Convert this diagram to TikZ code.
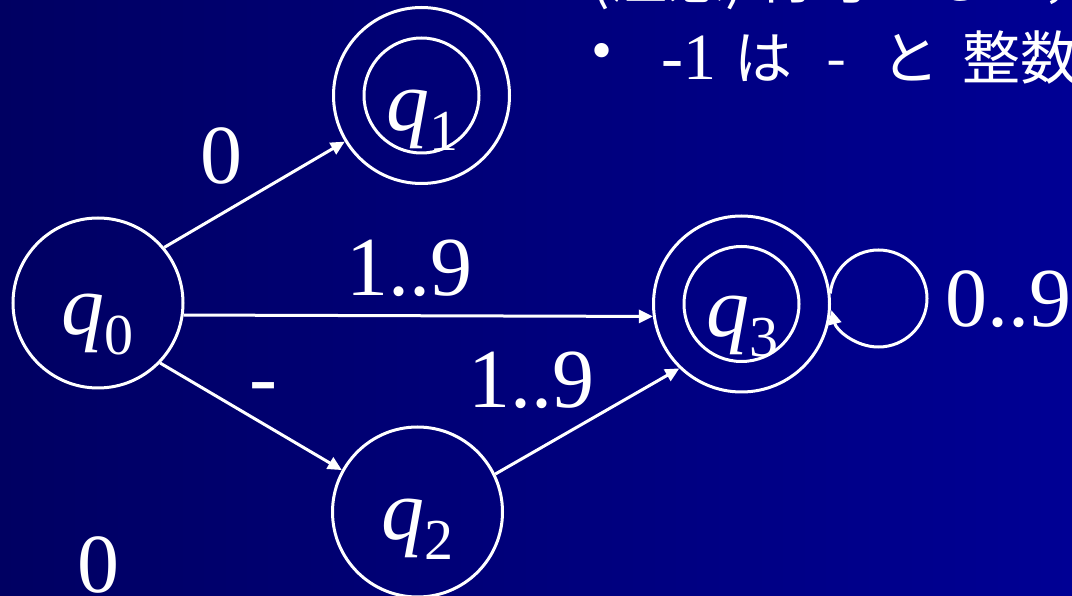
\documentclass[tikz,border=0pt]{standalone}
\usepackage{fontspec}
\setmainfont{Liberation Serif}
\newfontfamily\jpfont{Noto Sans CJK JP}
\usetikzlibrary{arrows.meta}
\definecolor{bgleft}{RGB}{0,0,98}
\definecolor{bgright}{RGB}{0,0,148}
\newcommand{\qsub}[1]{\textit{q}\raisebox{-20pt}{\fontsize{58}{58}\selectfont #1}}
\tikzset{
  state/.style={circle,draw=white,line width=3pt,inner sep=0pt},
  trans/.style={draw=white,line width=3pt,-{Triangle[length=14pt,width=13pt]}},
  biglabel/.style={text=white,inner sep=0pt,font=\fontsize{84}{90}\selectfont},
  qlabel/.style={text=white,inner sep=0pt,anchor=base west,font=\fontsize{86}{90}\selectfont},
  jptext/.style={text=white,inner sep=0pt,anchor=base west,font=\jpfont\fontsize{58}{62}\selectfont},
}
\begin{document}
\begin{tikzpicture}[x=1pt,y=1pt]
\useasboundingbox (0,0) rectangle (1072,595);
\clip (0,0) rectangle (1072,595);
\shade[left color=bgleft,right color=bgright] (0,0) rectangle (1072,595);

% states
\node[state,minimum size=170pt] (q0) at (98,292) {};
\node[state,minimum size=176pt] (q1) at (421.5,499.5) {};
\node[state,minimum size=170pt] (q2) at (417.5,83) {};
\node[state,minimum size=176pt] (q3) at (741.5,291) {};
\draw[white,line width=3pt] (q1.center) circle[radius=57.5];
\draw[white,line width=3pt] (q3.center) circle[radius=57.5];

% state labels
\node[qlabel] (l0) at (61,260) {\qsub{0}};
\node[qlabel] (l1) at (386,464) {\qsub{1}};
\node[qlabel] (l2) at (381,55) {\qsub{2}};
\node[qlabel] (l3) at (706,258) {\qsub{3}};

% transitions
\draw[trans] (q0.40) -- (q1.211);
\draw[trans] (q0.-8) -- (q3.188);
\draw[trans] (q0.-44) -- (q2.151);
\draw[trans] (q2.26) -- (q3.226);
\coordinate (lc) at (878.5,296.5);
\draw[trans] ([shift={(174:48.5)}]lc) arc[start angle=174,end angle=-166,radius=48.5];

% edge labels
\node[biglabel,anchor=base] (e01) at (221,411) {0};
\node[biglabel,anchor=base] (e03) at (409,299) {1..9};
\node[biglabel,anchor=base] (e02) at (263.5,189) {-};
\node[biglabel,anchor=base] (e23) at (531.5,187) {1..9};
\node[biglabel,anchor=base west] (e33) at (945,268) {0..9};
\node[biglabel,anchor=base] (z0) at (98,2) {0};

% Japanese notes (cut off at the top-right)
\node[jptext] (n1) at (590,596) {(注意) 符号として，};
\node[text=white,inner sep=0pt,font=\fontsize{60}{62}\selectfont] (bul) at (602,538) {•};
\node[text=white,inner sep=0pt,anchor=base west,font=\fontsize{66}{68}\selectfont] (m1) at (661,515) {-1};
\node[jptext] (n2) at (734,515) {は};
\node[jptext] (n3) at (826,515) {-};
\node[jptext] (n4) at (881,515) {と};
\node[jptext] (n5) at (962,515) {整数};
\end{tikzpicture}
\end{document}
